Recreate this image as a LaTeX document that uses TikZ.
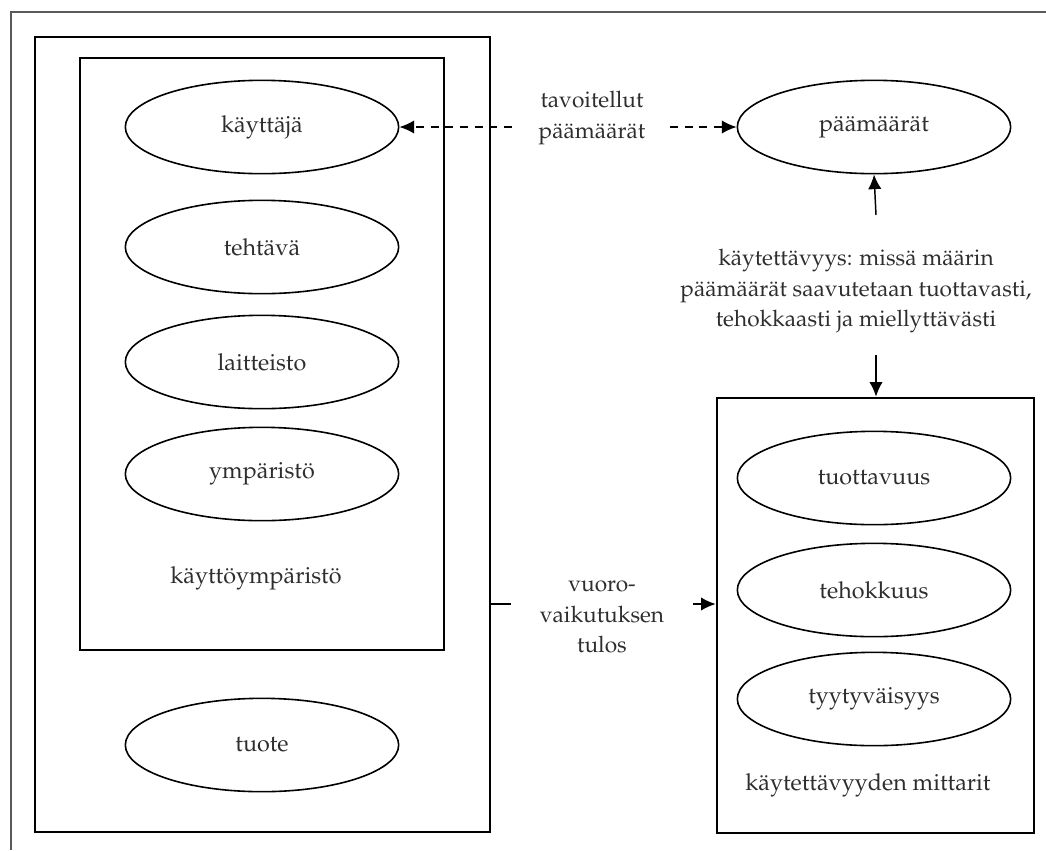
\documentclass[tikz,border=0pt]{standalone}
\usepackage[T1]{fontenc}
\usepackage{mathpazo}
\usetikzlibrary{shapes.geometric,arrows.meta}

\begin{document}
\begin{tikzpicture}[x=0.75pt,y=-0.75pt,
  every node/.style={font=\fontsize{17.5}{23}\selectfont, text=black!82},
  oval/.style={ellipse, draw, line width=1.2pt, inner sep=0pt,
    minimum width=205pt, minimum height=70pt},
  box/.style={draw, line width=2pt, inner sep=0pt},
  label/.style={align=center, inner sep=0pt},
  tip/.style={-{Latex[length=11pt,width=10pt]}, line width=1.1pt},
  dashtip/.style={tip, dash pattern=on 6pt off 5pt}]
\useasboundingbox (0,0) rectangle (1046,850);

% page frame
\draw[gray!70!black, line width=1.4pt] (11,850) -- (11,12) -- (1046,12);

% left side: product and its context of use
\node[box, minimum width=341.25pt, minimum height=596.25pt] (product) at (262.5,434.5) {};
\node[box, line width=1.4pt, minimum width=273pt, minimum height=444pt] (context) at (262,354) {};
\node[oval] (user) at (262,127) {k\"aytt\"aj\"a};
\node[oval] (task) at (262,247) {teht\"av\"a};
\node[oval] (hw) at (262,362) {laitteisto};
\node[oval] (env) at (262,474) {ymp\"arist\"o};
\node[label] (contextlbl) at (256,578) {k\"aytt\"oymp\"arist\"o};
\node[oval] (prod) at (262,745) {tuote};

% goals
\node[oval] (goals) at (874,127) {p\"a\"am\"a\"ar\"at};
\node[label, font=\fontsize{17}{23}\selectfont] (goallbl) at (592,118) {tavoitellut\\p\"a\"am\"a\"ar\"at};
\coordinate (gl) at (512,127);
\coordinate (gr) at (670,127);
\draw[dashtip] (gl) -- (user.east);
\draw[dashtip] (gr) -- (goals.west);

% usability definition
\node[label, font=\fontsize{17}{23}\selectfont] (usab) at (856,291) {k\"aytett\"avyys: miss\"a m\"a\"arin\\
  p\"a\"am\"a\"ar\"at saavutetaan tuottavasti,\\tehokkaasti ja miellytt\"av\"asti};
\coordinate (up) at (876,215);
\coordinate (down) at (876,355);

% usability measures
\node[box, minimum width=237.75pt, minimum height=326.25pt] (measures) at (875.5,615.5) {};
\node[oval] (eff) at (874,478) {tuottavuus};
\node[oval] (effi) at (874,590) {tehokkuus};
\node[oval] (sat) at (874,699) {tyytyv\"aisyys};
\node[label] (measlbl) at (868,785) {k\"aytett\"avyyden mittarit};

\draw[tip] (up) -- (goals.south);
\draw[tip] (down) -- (measures.north -| down);

% outcome of interaction
\node[label, font=\fontsize{17}{23}\selectfont] (outcome) at (602,617) {vuoro-\\vaikutuksen\\tulos};
\coordinate (oa) at (490,604);
\coordinate (ob) at (511,604);
\coordinate (oc) at (693,604);
\draw[line width=1.1pt] (oa) -- (ob);
\draw[tip] (oc) -- (measures.west |- oc);
\end{tikzpicture}
\end{document}
